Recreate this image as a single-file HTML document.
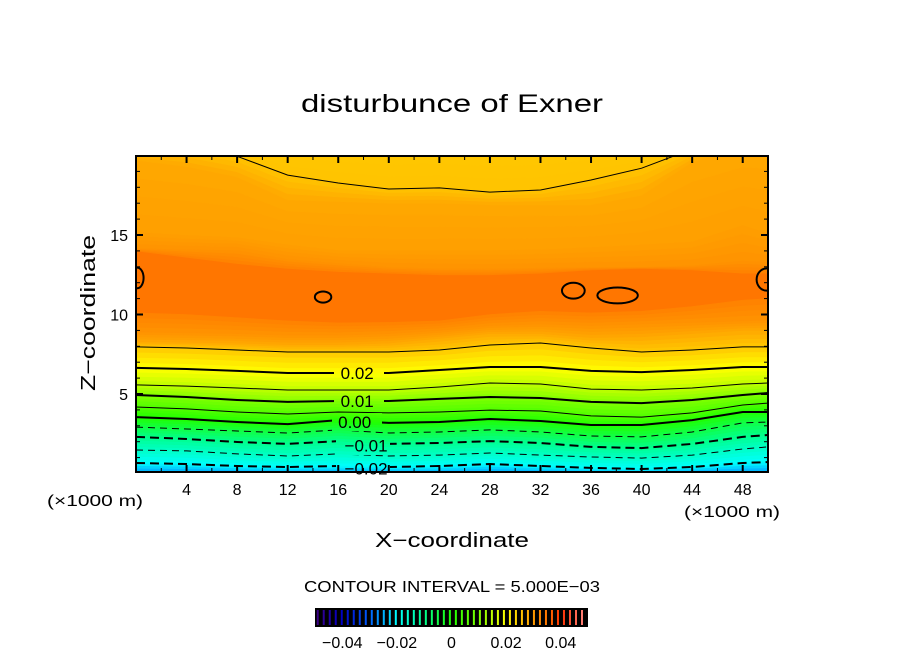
<!DOCTYPE html>
<html><head><meta charset="utf-8"><style>
html,body{margin:0;padding:0;background:#fff;}
svg{display:block;font-family:"Liberation Sans",sans-serif;}
</style></head><body>
<svg id="chart" width="904" height="654" viewBox="0 0 904 654">
<defs>
<clipPath id="plotclip"><rect x="136" y="156" width="632" height="316"/></clipPath>
<mask id="labelmask">
<rect x="0" y="0" width="904" height="654" fill="#fff"/>
<rect x="334" y="364" width="50" height="18" fill="#000"/>
<rect x="334" y="392" width="50" height="18" fill="#000"/>
<rect x="332" y="413" width="50" height="18" fill="#000"/>
<rect x="336" y="437" width="54" height="18" fill="#000"/>
<rect x="336" y="460" width="54" height="14" fill="#000"/>
</mask>
</defs>
<text x="452" y="112" font-size="25" text-anchor="middle" textLength="302" lengthAdjust="spacingAndGlyphs">disturbunce of Exner</text>
<g id="fills" clip-path="url(#plotclip)"></g>
<g id="lines" clip-path="url(#plotclip)" mask="url(#labelmask)"></g>
<g id="labels"></g>
<rect x="136" y="156" width="632" height="316" fill="none" stroke="#000" stroke-width="2"/>
<g id="axes"></g>
<text x="95" y="313" font-size="20" text-anchor="middle" textLength="156" lengthAdjust="spacingAndGlyphs" transform="rotate(-90 95 313)">Z−coordinate</text>
<text x="452" y="547" font-size="20" text-anchor="middle" textLength="154" lengthAdjust="spacingAndGlyphs">X−coordinate</text>
<text x="95" y="506" font-size="16" text-anchor="middle" textLength="96" lengthAdjust="spacingAndGlyphs">(×1000 m)</text>
<text x="732" y="517" font-size="16" text-anchor="middle" textLength="96" lengthAdjust="spacingAndGlyphs">(×1000 m)</text>
<text x="452" y="592" font-size="16" text-anchor="middle" textLength="296" lengthAdjust="spacingAndGlyphs">CONTOUR INTERVAL = 5.000E−03</text>
<rect x="315" y="608" width="273" height="19" fill="#000"/>
<g id="cbar"></g>
</svg>
<script>
// ---- data ----
const xs = [0,4,8,12,16,20,24,28,32,36,40,44,48,50];
const lowLevels = [-0.027,-0.02,-0.015,-0.01,-0.005,0.0,0.005,0.01,0.015,0.02,0.025,0.0285,0.031,0.0335];
const lowZ = [
 [0,0,0,0,0,0,0,0,0,0,0,0,0,0],
 [0.66,0.60,0.47,0.41,0.47,0.41,0.47,0.60,0.47,0.35,0.28,0.41,0.66,0.72],
 [1.48,1.42,1.23,1.10,1.23,1.10,1.16,1.29,1.16,1.04,0.97,1.16,1.54,1.67],
 [2.30,2.17,1.98,1.86,2.04,1.86,1.92,2.04,1.92,1.67,1.60,1.86,2.30,2.42],
 [2.92,2.80,2.67,2.55,2.74,2.55,2.61,2.74,2.61,2.36,2.30,2.61,3.18,3.24],
 [3.55,3.43,3.24,3.11,3.36,3.18,3.24,3.43,3.30,3.05,3.05,3.36,3.87,3.87],
 [4.18,4.06,3.87,3.74,3.87,3.81,3.87,3.99,3.93,3.62,3.55,3.81,4.31,4.43],
 [4.94,4.81,4.62,4.50,4.56,4.56,4.69,4.81,4.75,4.50,4.43,4.62,4.94,5.06],
 [5.57,5.50,5.38,5.25,5.25,5.25,5.44,5.69,5.63,5.31,5.25,5.38,5.63,5.69],
 [6.64,6.57,6.45,6.32,6.32,6.32,6.51,6.70,6.70,6.45,6.38,6.51,6.70,6.70],
 [7.96,7.89,7.77,7.64,7.64,7.64,7.77,8.08,8.21,7.89,7.64,7.77,7.96,7.96],
 [8.30,8.25,8.20,8.10,8.10,8.20,8.50,8.80,8.80,8.55,8.60,8.80,9.00,9.00],
 [8.90,8.85,8.80,8.70,8.70,8.80,9.00,9.30,9.40,9.30,9.40,9.50,9.60,9.65],
 [10.1,10.0,9.80,9.60,9.47,9.50,9.60,10.0,10.2,10.1,10.2,10.5,10.9,11.0]
];
const upLevels = [0.0335,0.031,0.0295,0.0285,0.0255,0.025];
const upZ = [
 [14.0,13.6,13.2,12.9,12.7,12.6,12.5,12.5,12.6,12.8,12.9,12.8,12.6,12.6],
 [14.18,14.1,14.06,13.5,13.24,13.0,12.92,12.9,12.95,12.99,13.0,13.1,13.4,13.3],
 [15.19,15.0,14.87,14.4,14.06,14.06,14.06,14.06,14.1,14.25,14.4,14.6,15.63,15.13],
 [19.7,19.3,18.65,17.2,17.1,17.0,17.0,16.9,16.9,16.9,17.5,19.6,20.5,20.5],
 [20.5,20.5,19.95,18.77,18.27,17.89,17.96,17.70,17.83,18.46,19.2,20.4,20.5,20.5],
 [21,21,21,21,21,21,21,21,21,21,21,21,21,21]
];
const lineLevels = [-0.02,-0.015,-0.01,-0.005,0.0,0.005,0.01,0.015,0.02,0.025];
const thickLevels = [-0.02,-0.01,0.0,0.01,0.02];
const loopX = [14.8,34.6,38.1,49.9,0.1];
const loopZ = [11.1,11.5,11.2,12.2,12.3];
const loopRX = [0.65,0.9,1.6,0.8,0.5];
const loopRZ = [0.35,0.5,0.5,0.7,0.65];
const labelText = ["0.02","0.01","0.00","−0.01","−0.02"];
const labelX = [17.5,17.5,17.3,18.2,18.2];
const labelZ = [6.32,4.56,3.25,1.75,0.32];
const xTicks = [4,8,12,16,20,24,28,32,36,40,44,48];
const yTicks = [5,10,15];
const cbTicks = [-0.04,-0.02,0,0.02,0.04];
const cbTickLabels = ["−0.04","−0.02","0","0.02","0.04"];

// ---- scales ----
const X0=136,X1=768,Y0=472,Y1=156;
const sx = v => X0 + (v/50)*(X1-X0);
const sy = z => 473.5 - z*15.9;
const cx = v => 315 + (v+0.05)/0.1*273;
const stops = [[-0.05,[64,0,128]],[-0.04,[0,0,200]],[-0.03,[0,96,255]],[-0.02,[0,255,255]],[-0.01,[0,255,144]],[0,[32,255,0]],[0.01,[128,255,0]],[0.02,[255,255,0]],[0.025,[255,200,0]],[0.03,[255,154,0]],[0.035,[255,118,0]],[0.04,[255,48,0]],[0.05,[255,144,144]]];
function cmap(v){
  if(v<=stops[0][0]) return 'rgb('+stops[0][1]+')';
  for(let i=1;i<stops.length;i++){
    if(v<=stops[i][0]){
      const t=(v-stops[i-1][0])/(stops[i][0]-stops[i-1][0]);
      const a=stops[i-1][1],b=stops[i][1];
      return 'rgb('+a.map((c,k)=>Math.round(c+(b[k]-c)*t)).join(',')+')';
    }
  }
  return 'rgb('+stops[stops.length-1][1]+')';
}
const NS='http://www.w3.org/2000/svg';
function mk(tag,attrs,parent){const e=document.createElementNS(NS,tag);for(const k in attrs)e.setAttribute(k,attrs[k]);parent.appendChild(e);return e;}
function pts(zarr){return xs.map((x,i)=>sx(x).toFixed(1)+','+sy(zarr[i]).toFixed(1));}
function bandPath(za,zb){
  const a=pts(za), b=pts(zb).reverse();
  return 'M'+a.join(' L')+' L'+b.join(' L')+' Z';
}
const fills=document.getElementById('fills');
const peak=mk('rect',{x:X0,y:Y1,width:X1-X0,height:Y0-Y1,fill:cmap(0.035)},fills);


const SUB=4;
function fillStack(levels,zs){
  for(let i=0;i<levels.length-1;i++){
    for(let s=0;s<SUB;s++){
      const t0=s/SUB,t1=(s+1)/SUB;
      const za=zs[i].map((z,k)=>z+(zs[i+1][k]-z)*t0);
      const zb=zs[i].map((z,k)=>z+(zs[i+1][k]-z)*t1);
      const v=levels[i]+(levels[i+1]-levels[i])*(t0+t1)/2;
      const p=mk('path',{d:bandPath(za,zb),fill:cmap(v),stroke:cmap(v),'stroke-width':0.6},fills);
      
      
    }
  }
}
fillStack(lowLevels,lowZ);
fillStack(upLevels,upZ);
const lines=document.getElementById('lines');
function drawLine(zarr,v){
  const thick=thickLevels.some(t=>Math.abs(t-v)<1e-9);
  const a={d:'M'+pts(zarr).join(' L'),fill:'none',stroke:'#000','stroke-width':thick?2:1};
  if(v<0) a['stroke-dasharray']=thick?'9,5':'7,5';
  const p=mk('path',a,lines);
  
  
}
lineLevels.forEach(v=>{const i=lowLevels.findIndex(l=>Math.abs(l-v)<1e-9);drawLine(lowZ[i],v);});
drawLine(upZ[upLevels.indexOf(0.0255)],0.025);
loopX.forEach((x,i)=>{
  const e=mk('ellipse',{cx:sx(x),cy:sy(loopZ[i]),rx:loopRX[i]*12.64,ry:loopRZ[i]*15.9,fill:'none',stroke:'#000','stroke-width':2},lines);
  
  
});
const labels=document.getElementById('labels');
labelText.forEach((t,i)=>{
  const e=mk('text',{x:sx(labelX[i]),y:sy(labelZ[i])+6,'font-size':17,'text-anchor':'middle'},labels);
  e.textContent=t;
  
  
});
const axes=document.getElementById('axes');
for(let v=2;v<50;v+=2){
  const major=v%4===0, L=major?7:4;
  mk('line',{x1:sx(v),x2:sx(v),y1:Y0,y2:Y0-L,stroke:'#000','stroke-width':major?2:1},axes);
  mk('line',{x1:sx(v),x2:sx(v),y1:Y1,y2:Y1+L,stroke:'#000','stroke-width':major?2:1},axes);
}
for(let z=1;z<20;z++){
  const major=z%5===0, L=major?7:4;
  mk('line',{x1:X0,x2:X0+L,y1:sy(z),y2:sy(z),stroke:'#000','stroke-width':major?2:1},axes);
  mk('line',{x1:X1,x2:X1-L,y1:sy(z),y2:sy(z),stroke:'#000','stroke-width':major?2:1},axes);
}
xTicks.forEach(v=>{
  const t=mk('text',{x:sx(v),y:495,'font-size':16,'text-anchor':'middle'},axes);
  t.textContent=String(v);
  
  
});
yTicks.forEach(v=>{
  const t=mk('text',{x:128,y:sy(v)+6,'font-size':16,'text-anchor':'end'},axes);
  t.textContent=String(v);
  
  
});
const cbar=document.getElementById('cbar');
for(let v=-0.049;v<0.05;v+=0.0022){
  const l=mk('line',{x1:cx(v),x2:cx(v),y1:610,y2:625,stroke:cmap(v),'stroke-width':2},cbar);
  
  
}
cbTicks.forEach((v,i)=>{
  const t=mk('text',{x:cx(v),y:648,'font-size':16,'text-anchor':'middle'},cbar);
  t.textContent=cbTickLabels[i];
  
  
});
</script>
</body></html>
